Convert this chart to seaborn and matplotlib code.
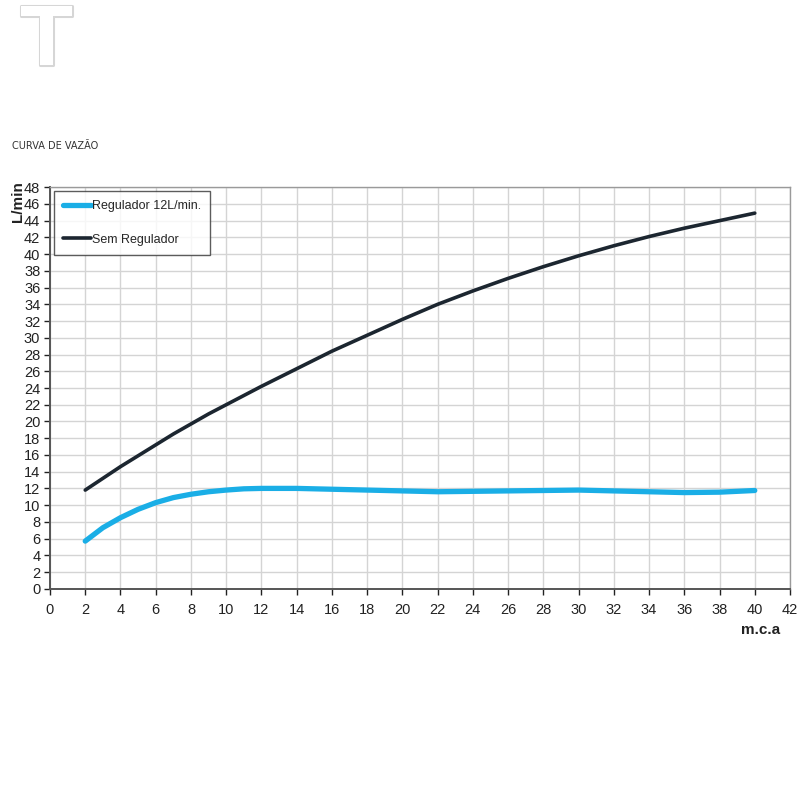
#!/usr/bin/env python3
# Curva de vazao - regulador vs sem regulador
import pandas as pd
import matplotlib
matplotlib.use("Agg")
import matplotlib.pyplot as plt
import matplotlib.patheffects as pe
import seaborn as sns

# Data
pressao = [2, 3, 4, 5, 6, 7, 8, 9, 10, 11, 12, 14, 16, 18, 20, 22, 24, 26,
           28, 30, 32, 34, 36, 38, 40]
com_regulador = [5.7, 7.3, 8.5, 9.5, 10.3, 10.9, 11.3, 11.6, 11.8, 11.95, 12.0,
                 12.0, 11.9, 11.8, 11.7, 11.6, 11.65, 11.7, 11.75, 11.8, 11.7,
                 11.6, 11.5, 11.55, 11.75]
sem_regulador = [11.8, 13.2, 14.6, 15.9, 17.2, 18.5, 19.7, 20.9, 22.0, 23.1, 24.2,
                 26.3, 28.4, 30.3, 32.2, 34.0, 35.6, 37.1, 38.5, 39.8, 41.0,
                 42.1, 43.1, 44.0, 44.9]
serie_labels = ["Regulador 12L/min.", "Sem Regulador"]
x_ticks = list(range(0, 43, 2))
y_ticks = list(range(0, 49, 2))

df = pd.DataFrame({
    "mca": pressao * 2,
    "vazao": com_regulador + sem_regulador,
    "serie": [serie_labels[0]] * len(pressao) + [serie_labels[1]] * len(pressao),
})

sns.set_theme(style="whitegrid")
plt.rcParams["font.family"] = ["Liberation Sans", "DejaVu Sans"]

fig = plt.figure(figsize=(8, 8), dpi=100)
ax = fig.add_axes([0.0625, 0.264, 0.925, 0.502])

palette = {serie_labels[0]: "#1aaee6", serie_labels[1]: "#1c2630"}
for name, lw in zip(serie_labels, [3.8, 2.6]):
    sub = df[df["serie"] == name]
    sns.lineplot(data=sub, x="mca", y="vazao", ax=ax, color=palette[name],
                 linewidth=lw, label=name, legend=False)
for line in ax.get_lines():
    line.set_solid_capstyle("round")
    line.set_solid_joinstyle("round")

ax.set_xlim(0, 42)
ax.set_ylim(0, 48)
ax.set_xticks(x_ticks)
ax.set_yticks(y_ticks)
ax.grid(True, color="#d4d4d4", linewidth=1.0)
ax.set_facecolor("white")
ax.tick_params(axis="both", labelsize=10.5, colors="#222222", length=4,
               width=1, direction="out", bottom=True, left=True, pad=3)
ax.tick_params(axis="x", pad=6)
for side in ["left", "bottom"]:
    ax.spines[side].set_color("#555555")
    ax.spines[side].set_linewidth(1.4)
for side in ["top", "right"]:
    ax.spines[side].set_color("#9a9a9a")
    ax.spines[side].set_linewidth(1.0)
ax.set_xlabel("")
ax.set_ylabel("")

leg = ax.legend(loc="upper left", bbox_to_anchor=(0.0, 1.0), borderaxespad=0.3,
                fontsize=9, frameon=True, fancybox=False, handlelength=2.2,
                handletextpad=0.1, labelspacing=1.7, borderpad=0.75)
leg.get_frame().set_edgecolor("#333333")
leg.get_frame().set_linewidth(1.0)

fig.text(0.975, 0.212, "m.c.a", fontsize=11, fontweight="bold", ha="right",
         va="center", color="#222222")
fig.text(0.022, 0.748, "L/min", fontsize=11, fontweight="bold", rotation=90,
         ha="center", va="center", color="#222222")
fig.text(0.015, 0.817, "CURVA DE VAZÃO", fontsize=7, ha="left", va="center",
         color="#333333", family="DejaVu Sans")

# faded logo in the corner
logo = fig.text(0.058, 0.946, "T", fontsize=62, ha="center", va="center",
                color="white", fontweight="bold")
logo.set_path_effects([pe.withStroke(linewidth=2.2, foreground="#d6d6d6")])

fig.savefig("out.png", dpi=100, facecolor="white")
